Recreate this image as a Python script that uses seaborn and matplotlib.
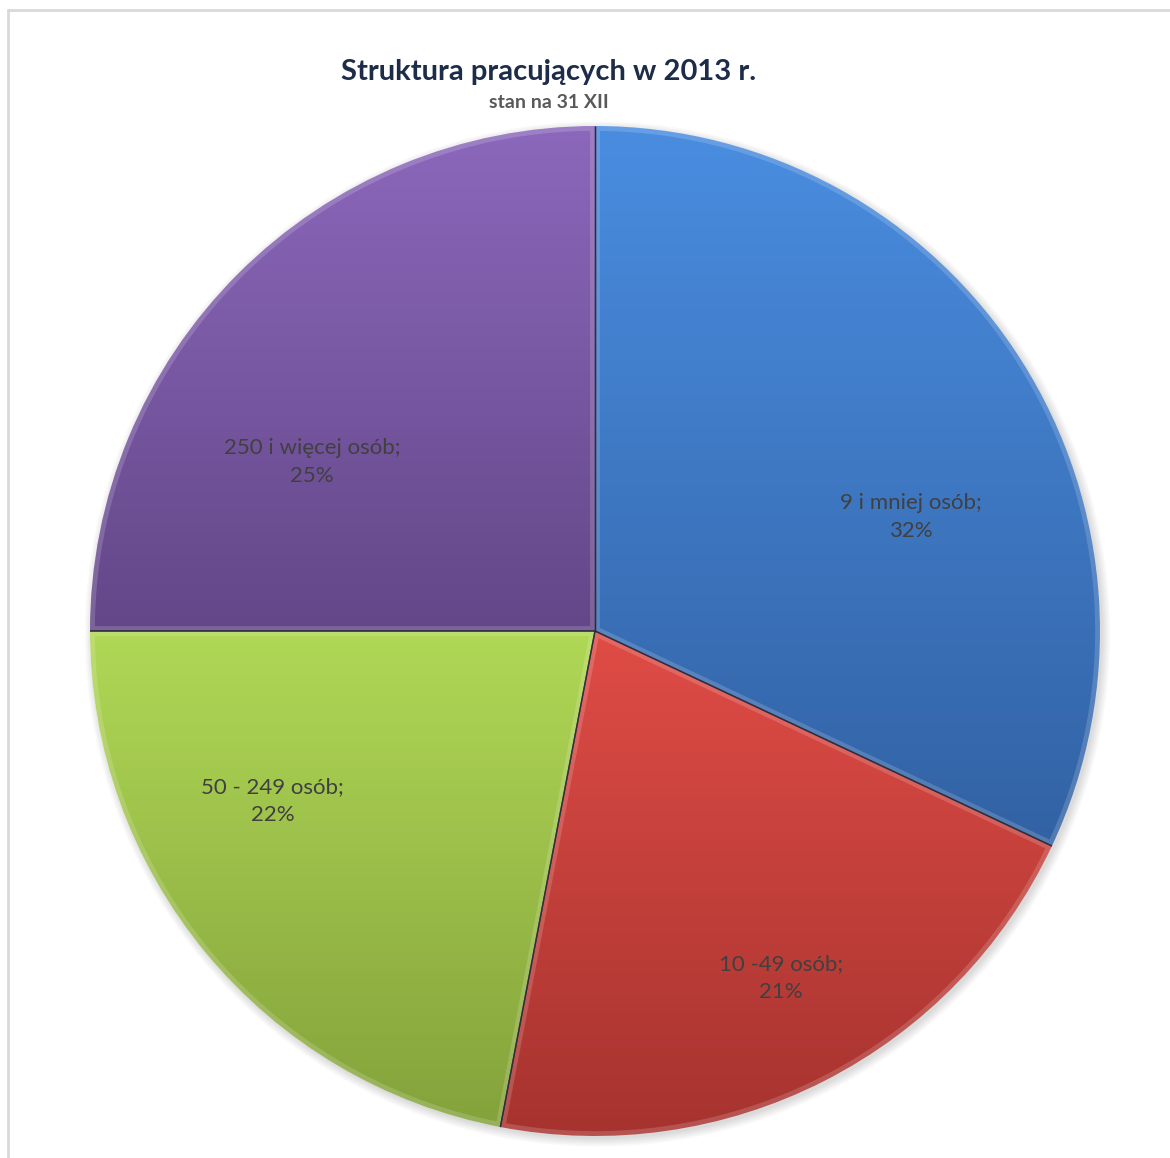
import numpy as np
import matplotlib
matplotlib.use("Agg")
import matplotlib.pyplot as plt
import matplotlib.colors as mcolors
from matplotlib.lines import Line2D
from matplotlib.patches import Circle
import seaborn as sns

# Employment structure by enterprise size, 2013
categories = ["9 i mniej osób", "10 -49 osób", "50 - 249 osób", "250 i więcej osób"]
shares = [32, 21, 22, 25]
title = "Struktura pracujących w 2013 r."
subtitle = "stan na 31 XII"

# light (top) -> dark (bottom) fill per slice
top_colors = ["#4a8de0", "#e04c46", "#b0d856", "#8c68bc"]
bottom_colors = ["#3262a4", "#a6332f", "#84a23b", "#634788"]

# label anchors in pie units (x, y)
label_anchor = [(0.626, 0.226), (0.368, -0.687), (-0.638, -0.337), (-0.560, 0.335)]

sns.set_theme(style="white")
plt.rcParams["font.family"] = ["Lato", "DejaVu Sans"]

W, H = 1170, 1158
fig = plt.figure(figsize=(W / 100, H / 100), dpi=100)
fig.patch.set_facecolor("white")

cx, cy, R = 595, 631, 505
ax = fig.add_axes([(cx - R) / W, (H - cy - R) / H, 2 * R / W, 2 * R / H])
ax.set_facecolor("none")

# soft outer shadow
for k in range(6):
    ax.add_patch(Circle((0.005, -0.006), 1.0 + k * 0.003, facecolor="black",
                        edgecolor="none", alpha=0.025, zorder=0, clip_on=False))
ax.add_patch(Circle((0, 0), 1.0, facecolor="white", edgecolor="none", zorder=0.5))

wedges, _ = ax.pie(shares, startangle=90, counterclock=False, radius=1.0,
                   wedgeprops=dict(linewidth=0, edgecolor="none"))

for i, w in enumerate(wedges):
    t1, t2 = np.deg2rad(w.theta1), np.deg2rad(w.theta2)
    th = np.linspace(t1, t2, 200)
    ys = np.concatenate([[0.0], np.sin(th)])
    xs = np.concatenate([[0.0], np.cos(th)])
    y0, y1 = ys.min(), ys.max()
    x0, x1 = xs.min(), xs.max()
    c_top = np.array(mcolors.to_rgb(top_colors[i]))
    c_bot = np.array(mcolors.to_rgb(bottom_colors[i]))
    t = np.linspace(0, 1, 256)[:, None]
    grad = (c_top * (1 - t) + c_bot * t)[:, None, :]
    im = ax.imshow(grad, extent=[x0, x1, y0, y1], origin="upper",
                   aspect="auto", zorder=1, interpolation="bilinear")
    im.set_clip_path(w)
    w.set_facecolor("none")
    w.set_zorder(2)
    # bevel highlight along the slice outline
    hl = plt.Polygon(np.c_[xs, ys], closed=True, fill=False,
                     edgecolor="white", linewidth=7, alpha=0.16, zorder=2.5)
    ax.add_patch(hl)
    hl.set_clip_path(w)

# thin dark separators along the radii
for w in wedges:
    for ang in (w.theta1, w.theta2):
        a = np.deg2rad(ang)
        ax.plot([0, np.cos(a)], [0, np.sin(a)], color="#2b2838", lw=1.0,
                alpha=0.8, zorder=3, solid_capstyle="butt")

for (lx, ly), name, val in zip(label_anchor, categories, shares):
    ax.text(lx, ly, f"{name};\n{val}%", ha="center", va="center",
            fontsize=16, color="#404040", linespacing=1.5, zorder=4)

ax.set_xlim(-1, 1)
ax.set_ylim(-1, 1)
ax.set_aspect("auto")
ax.axis("off")

fig.text(549 / W, 1 - 72 / H, title, ha="center", va="center",
         fontsize=21, fontweight="bold", color="#1d2c48")
fig.text(549 / W, 1 - 103 / H, subtitle, ha="center", va="center",
         fontsize=14, fontweight="bold", color="#595959")

# chart-area frame
fig.add_artist(Line2D([7.5 / W, 7.5 / W], [0, 1 - 9.5 / H], color="#d9d9d9",
                      lw=2, transform=fig.transFigure))
fig.add_artist(Line2D([7.5 / W, 1], [1 - 9.5 / H, 1 - 9.5 / H], color="#d9d9d9",
                      lw=2, transform=fig.transFigure))

fig.savefig("out.png", dpi=100, facecolor="white")
